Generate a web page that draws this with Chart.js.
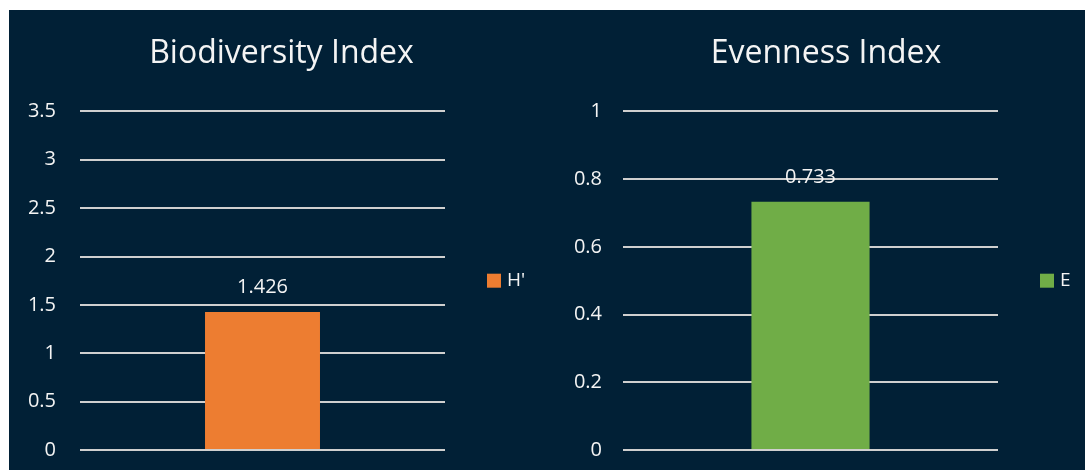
<!DOCTYPE html>
<html>
<head>
<meta charset="utf-8">
<script src="https://cdn.jsdelivr.net/npm/chart.js@4/dist/chart.umd.min.js"></script>
<style>
  html, body { margin: 0; padding: 0; background: #fff; overflow: hidden; }
  .bg { position: absolute; left: 9px; top: 10px; width: 1076px; height: 460px; background: #012036; }
  .box { position: absolute; top: 10px; height: 460px; }
  #left { left: 0; width: 563px; }
  #right { left: 567px; width: 518px; }
</style>
</head>
<body>
<div class="bg"></div>
<div class="box" id="left"><canvas id="c1"></canvas></div>
<div class="box" id="right"><canvas id="c2"></canvas></div>
<script>
// data
const bioLabels = ['']
const bioValues = [1.426]
const bioSeries = "H'"
const evenLabels = ['']
const evenValues = [0.733]
const evenSeries = 'E'

const txt = '#f4f4f4'
const gridCol = '#cfcfcf'
const fnt = '"Open Sans", sans-serif'

// value above bar + legend on the right of the plot
const extras = {
    id: 'extras',
    afterDatasetsDraw(chart) {
        const ctx = chart.ctx
        const area = chart.chartArea
        chart.data.datasets.forEach((ds, i) => {
            chart.getDatasetMeta(i).data.forEach((bar, j) => {
                ctx.save()
                ctx.fillStyle = txt
                ctx.font = '20px ' + fnt
                ctx.textAlign = 'center'
                ctx.textBaseline = 'middle'
                ctx.fillText(ds.data[j], bar.x, bar.y - 25)
                ctx.restore()
            })
            // legend item
            const ly = (area.top + area.bottom) / 2
            const lx = area.right + 42
            ctx.save()
            ctx.fillStyle = ds.backgroundColor
            ctx.fillRect(lx, ly - 7, 14, 14)
            ctx.fillStyle = txt
            ctx.font = '19px ' + fnt
            ctx.textAlign = 'left'
            ctx.textBaseline = 'middle'
            ctx.fillText(ds.label, lx + 20, ly)
            ctx.restore()
        })
    }
}

function fmt(v) {
    return String(+v.toFixed(2))
}

function makeChart(el, title, labels, values, series, color, max, step, axisW, rightW, tickPad) {
    return new Chart(el, {
        type: 'bar',
        data: {
            labels: labels,
            datasets: [{
                label: series,
                data: values,
                backgroundColor: color,
                barPercentage: 0.63,
                categoryPercentage: 0.5
            }]
        },
        plugins: [extras],
        options: {
            maintainAspectRatio: false,
            animation: false,
            layout: { padding: { top: 0, bottom: 20, left: 0, right: 0 } },
            plugins: {
                title: {
                    display: true,
                    text: title,
                    color: txt,
                    font: { size: 32, family: fnt, weight: 'normal' },
                    padding: { top: 25, bottom: 38 }
                },
                legend: { display: false },
                tooltip: { enabled: false }
            },
            scales: {
                x: {
                    grid: { display: false },
                    border: { display: false },
                    ticks: { display: false },
                    afterFit(scale) { scale.height = 0 }
                },
                y: {
                    min: 0,
                    max: max,
                    border: { display: false },
                    grid: { color: gridCol, lineWidth: 2, drawTicks: false },
                    ticks: {
                        stepSize: step,
                        color: txt,
                        padding: tickPad,
                        font: { size: 20, family: fnt },
                        callback: v => fmt(v)
                    },
                    afterFit(scale) {
                        scale.width = axisW
                        scale.paddingTop = 0
                        scale.paddingBottom = 0
                    }
                },
                // empty axis that keeps room for the legend on the right
                side: {
                    type: 'linear',
                    position: 'right',
                    display: true,
                    grid: { display: false },
                    border: { display: false },
                    ticks: { display: false },
                    afterFit(scale) { scale.width = rightW }
                }
            }
        }
    })
}

makeChart(document.getElementById('c1'), 'Biodiversity Index', bioLabels, bioValues, bioSeries, '#ed7d31', 3.5, 0.5, 80, 118, 24)
makeChart(document.getElementById('c2'), 'Evenness Index', evenLabels, evenValues, evenSeries, '#70ad47', 1, 0.2, 56, 87, 21)
</script>
</body>
</html>
